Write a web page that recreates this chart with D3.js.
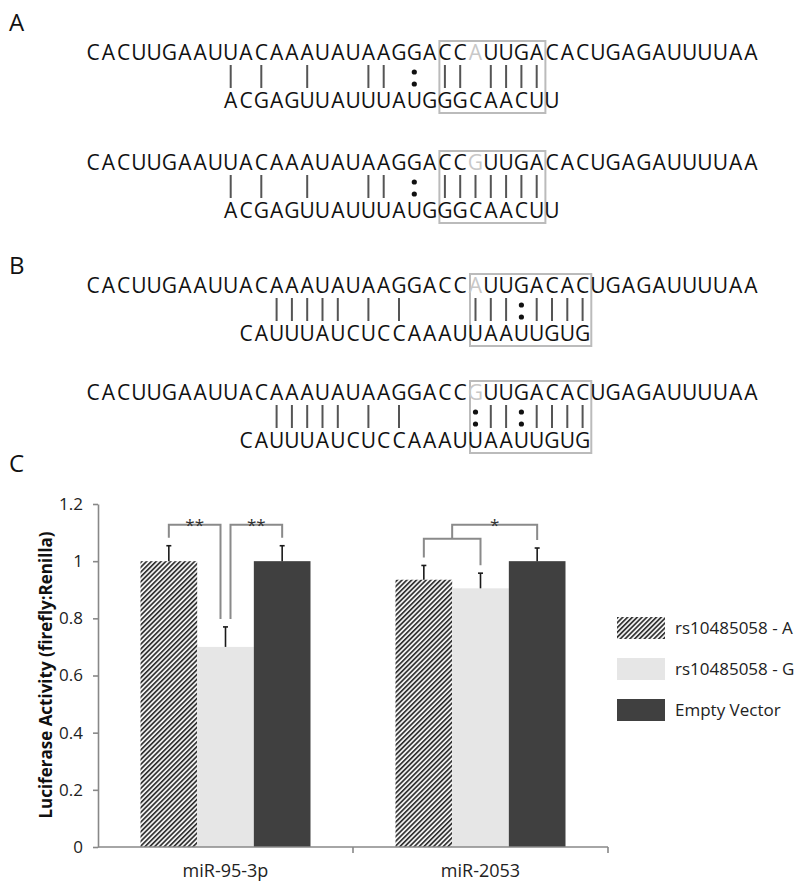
<!DOCTYPE html>
<html>
<head>
<meta charset="utf-8">
<script src="https://cdn.jsdelivr.net/npm/d3@7"></script>
<style>
  body { margin: 0; background: #fff; }
  text { font-family: "Open Sans", sans-serif; }
</style>
</head>
<body>
<svg id="fig" width="800" height="894"></svg>
<script>
// target site, two alleles of rs10485058
var targetA = 'CACUUGAAUUACAAAUAUAAGGACCAUUGACACUGAGAUUUUAA';
var targetG = 'CACUUGAAUUACAAAUAUAAGGACCGUUGACACUGAGAUUUUAA';
var snpPos = 25;
// miRNA written 3' -> 5', and where it lines up under the target
var mirSeqs = ['ACGAGUUAUUUAUGGGCAACUU', 'CAUUUAUCUCCAAAUUAAUUGUG'];
var mirOffsets = [9, 10];
var seedBoxes = [[23, 29], [25, 32]];
var panelLabels = ['A', 'B', 'C'];

// luciferase assay
var groups = ['miR-95-3p', 'miR-2053'];
var seriesNames = ['rs10485058 - A', 'rs10485058 - G', 'Empty Vector'];
var alleleA = [1.00, 0.935];
var alleleAErr = [0.054, 0.05];
var alleleG = [0.70, 0.905];
var alleleGErr = [0.07, 0.053];
var emptyVec = [1.00, 1.00];
var emptyVecErr = [0.054, 0.046];
var yTicks = [0, 0.2, 0.4, 0.6, 0.8, 1, 1.2];
// significance: bars (by series index) compared inside one group
var sigTests = [
    {group: 0, a: [0], b: [1], label: '**'},
    {group: 0, a: [1], b: [2], label: '**'},
    {group: 1, a: [0, 1], b: [2], label: '*'}
];

var svg = d3.select('#fig');

// ---------- panels A and B: duplexes ----------
var rows = [
    {target: targetA, mir: 0, y: 60},
    {target: targetG, mir: 0, y: 170},
    {target: targetA, mir: 1, y: 293},
    {target: targetG, mir: 1, y: 400}
];
// one column per nucleotide
var col = d3.scaleLinear().domain([0, 1]).range([93, 108.3]);

function pairType(a, b) {
    var p = a + b;
    if (p == 'AU' || p == 'UA' || p == 'GC' || p == 'CG') return 'wc';
    if (p == 'GU' || p == 'UG') return 'gu';
    return null;
}

rows.forEach(function(r) {
    var g = svg.append('g');
    var mir = mirSeqs[r.mir], off = mirOffsets[r.mir];
    var box = seedBoxes[r.mir];

    // seed box
    g.append('rect')
        .attr('x', col(box[0]) - 5.5)
        .attr('y', r.y - 19)
        .attr('width', col(box[1]) - col(box[0]) + 14.2)
        .attr('height', 72)
        .attr('fill', 'none')
        .attr('stroke', '#bbb')
        .attr('stroke-width', 2);

    g.selectAll('text.top')
        .data(r.target.split(''))
        .enter()
        .append('text')
        .attr('class', 'top')
        .attr('x', function(d, i) { return col(i); })
        .attr('y', r.y)
        .attr('text-anchor', 'middle')
        .attr('font-size', 21)
        .attr('fill', function(d, i) { return i == snpPos ? '#c8c8c8' : '#111'; })
        .text(function(d) { return d; });

    g.selectAll('text.bot')
        .data(mir.split(''))
        .enter()
        .append('text')
        .attr('class', 'bot')
        .attr('x', function(d, i) { return col(i + off); })
        .attr('y', r.y + 48)
        .attr('text-anchor', 'middle')
        .attr('font-size', 21)
        .attr('fill', '#111')
        .text(function(d) { return d; });

    var pairs = mir.split('').map(function(c, i) {
        return {i: i + off, type: pairType(r.target[i + off], c)};
    });

    g.selectAll('line.wc')
        .data(pairs.filter(function(p) { return p.type == 'wc'; }))
        .enter()
        .append('line')
        .attr('x1', function(p) { return col(p.i); })
        .attr('x2', function(p) { return col(p.i); })
        .attr('y1', r.y + 5)
        .attr('y2', r.y + 28)
        .attr('stroke', '#555')
        .attr('stroke-width', 2);

    var gu = pairs.filter(function(p) { return p.type == 'gu'; });
    [r.y + 12, r.y + 24].forEach(function(cy) {
        g.selectAll(null)
            .data(gu)
            .enter()
            .append('circle')
            .attr('cx', function(p) { return col(p.i); })
            .attr('cy', cy)
            .attr('r', 2.6)
            .attr('fill', '#111');
    });
});

svg.selectAll('text.panel')
    .data(panelLabels)
    .enter()
    .append('text')
    .attr('class', 'panel')
    .attr('x', 9)
    .attr('y', function(d, i) { return [31, 274, 472][i]; })
    .attr('font-size', 24)
    .attr('fill', '#111')
    .text(function(d) { return d; });

// ---------- panel C: bar chart ----------
var defs = svg.append('defs');
var hatch = defs.append('pattern')
    .attr('id', 'hatch')
    .attr('patternUnits', 'userSpaceOnUse')
    .attr('width', 3.4)
    .attr('height', 3.4)
    .attr('patternTransform', 'rotate(45)');
hatch.append('rect').attr('width', 3.4).attr('height', 3.4).attr('fill', '#f0f0f0');
hatch.append('line')
    .attr('x1', 0.8).attr('x2', 0.8).attr('y1', 0).attr('y2', 3.4)
    .attr('stroke', '#2b2b2b').attr('stroke-width', 1.6);

var fills = ['url(#hatch)', '#e6e6e6', '#404040'];
var values = [alleleA, alleleG, emptyVec];
var errs = [alleleAErr, alleleGErr, emptyVecErr];

var x0 = d3.scaleBand().domain(groups).range([98, 608]);
var x1 = d3.scaleBand().domain(d3.range(seriesNames.length))
    .range([0, x0.bandwidth()]).paddingOuter(0.75).paddingInner(0);
var y = d3.scaleLinear().domain([0, 1.2]).range([847, 504]);

var barData = [];
groups.forEach(function(gname, gi) {
    seriesNames.forEach(function(s, si) {
        barData.push({g: gname, gi: gi, si: si, v: values[si][gi], e: errs[si][gi]});
    });
});
function barX(d) { return x0(d.g) + x1(d.si); }
function barC(gi, si) { return x0(groups[gi]) + x1(si) + x1.bandwidth() / 2; }

svg.append('g')
    .selectAll('rect')
    .data(barData)
    .enter()
    .append('rect')
    .attr('x', barX)
    .attr('y', function(d) { return y(d.v); })
    .attr('width', x1.bandwidth())
    .attr('height', function(d) { return y(0) - y(d.v); })
    .attr('fill', function(d) { return fills[d.si]; });

// error bars, upper half only
var eb = svg.append('g').attr('stroke', '#1a1a1a').attr('stroke-width', 1.6);
eb.selectAll('line.v')
    .data(barData)
    .enter()
    .append('line')
    .attr('x1', function(d) { return barC(d.gi, d.si); })
    .attr('x2', function(d) { return barC(d.gi, d.si); })
    .attr('y1', function(d) { return y(d.v); })
    .attr('y2', function(d) { return y(d.v + d.e); });
eb.selectAll('line.cap')
    .data(barData)
    .enter()
    .append('line')
    .attr('x1', function(d) { return barC(d.gi, d.si) - 2.5; })
    .attr('x2', function(d) { return barC(d.gi, d.si) + 2.5; })
    .attr('y1', function(d) { return y(d.v + d.e); })
    .attr('y2', function(d) { return y(d.v + d.e); });

// axes
var yAxis = svg.append('g')
    .attr('transform', 'translate(98,0)')
    .call(d3.axisLeft(y).tickValues(yTicks).tickFormat(d3.format('~g')).tickSize(5).tickSizeOuter(0).tickPadding(10));
yAxis.select('.domain').attr('stroke', '#888').attr('stroke-width', 1.6);
yAxis.selectAll('.tick line').attr('stroke', '#888').attr('stroke-width', 1.6);
yAxis.selectAll('.tick text').attr('font-size', 17).attr('fill', '#222')
    .attr('font-family', '"Open Sans", sans-serif');

var xg = svg.append('g');
xg.append('line')
    .attr('x1', x0.range()[0]).attr('x2', x0.range()[1])
    .attr('y1', y(0)).attr('y2', y(0))
    .attr('stroke', '#888').attr('stroke-width', 1.6);
xg.selectAll('line.tk')
    .data(groups)
    .enter()
    .append('line')
    .attr('x1', function(d) { return x0(d) + x0.bandwidth(); })
    .attr('x2', function(d) { return x0(d) + x0.bandwidth(); })
    .attr('y1', y(0)).attr('y2', y(0) + 6)
    .attr('stroke', '#888').attr('stroke-width', 1.6);
xg.selectAll('text')
    .data(groups)
    .enter()
    .append('text')
    .attr('x', function(d) { return x0(d) + x0.bandwidth() / 2; })
    .attr('y', 877)
    .attr('text-anchor', 'middle')
    .attr('font-size', 18)
    .attr('fill', '#222')
    .text(function(d) { return d; });

svg.append('text')
    .attr('transform', 'translate(52,675) rotate(-90)')
    .attr('text-anchor', 'middle')
    .attr('font-size', 17)
    .attr('font-weight', 'bold')
    .attr('fill', '#111')
    .text('Luciferase Activity (firefly:Renilla)');

// significance brackets
var topLevel = y(1.127), innerLevel = topLevel + 14, legGap = 8;
var br = svg.append('g').attr('fill', 'none').attr('stroke', '#8a8a8a').attr('stroke-width', 2);
function barTop(gi, si) { return y(values[si][gi] + errs[si][gi]) - legGap; }
function shared(t, si) {
    return sigTests.filter(function(o) {
        return o !== t && o.group == t.group && (o.a.indexOf(si) >= 0 || o.b.indexOf(si) >= 0);
    }).length > 0;
}
sigTests.forEach(function(t) {
    var gi = t.group, lx, ly;
    if (t.a.length > 1) {
        var ax = barC(gi, t.a[0]), bx = barC(gi, t.a[t.a.length - 1]);
        br.append('path').attr('d', d3.line()([
            [ax, barTop(gi, t.a[0])], [ax, innerLevel],
            [bx, innerLevel], [bx, barTop(gi, t.a[t.a.length - 1])]
        ]));
        lx = (ax + bx) / 2; ly = innerLevel;
    } else {
        lx = barC(gi, t.a[0]) + (shared(t, t.a[0]) ? 5 : 0);
        ly = barTop(gi, t.a[0]);
    }
    var si = t.b[0];
    var rx = barC(gi, si) - (shared(t, si) ? 5 : 0);
    br.append('path').attr('d', d3.line()([
        [lx, ly], [lx, topLevel], [rx, topLevel], [rx, barTop(gi, si)]
    ]));
    svg.append('text')
        .attr('x', (lx + rx) / 2)
        .attr('y', topLevel + 6)
        .attr('text-anchor', 'middle')
        .attr('font-size', 17)
        .attr('fill', '#333')
        .text(t.label);
});

// legend
var lg = svg.append('g').attr('transform', 'translate(617,617)');
var li = lg.selectAll('g')
    .data(seriesNames)
    .enter()
    .append('g')
    .attr('transform', function(d, i) { return 'translate(0,' + i * 41 + ')'; });
li.append('rect')
    .attr('width', 48)
    .attr('height', 22)
    .attr('fill', function(d, i) { return fills[i]; });
li.append('text')
    .attr('x', 58)
    .attr('y', 17)
    .attr('font-size', 17)
    .attr('fill', '#222')
    .text(function(d) { return d; });
</script>
</body>
</html>
